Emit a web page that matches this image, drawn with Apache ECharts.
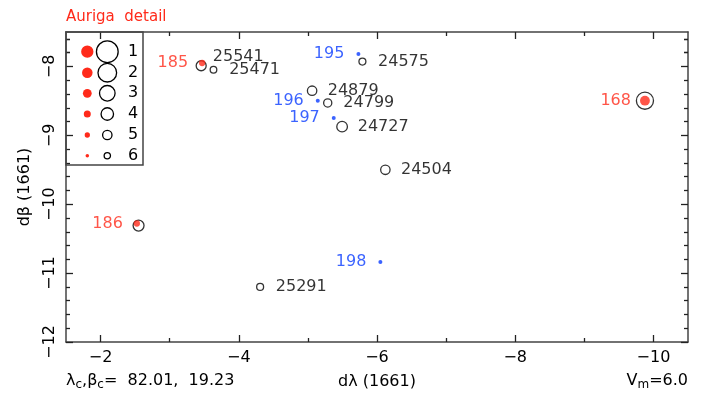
<!DOCTYPE html>
<html>
<head>
<meta charset="utf-8">
<script src="https://cdn.jsdelivr.net/npm/echarts@6/dist/echarts.min.js"></script>
<style>
  html, body { margin: 0; padding: 0; background: #fff; }
  #chart { width: 709px; height: 399px; }
</style>
</head>
<body>
<div id="chart"></div>
<script>
// Stars of the modern catalogue (open rings, labelled by number)
const starLabels = ['25541', '25471', '24575', '24879', '24799', '24727', '24504', '25291', '', ''];
const starLon = [-3.456, -3.634, -5.789, -5.061, -5.287, -5.495, -6.121, -4.309, -2.55, -9.877];
const starLat = [-7.99, -8.048, -7.93, -8.352, -8.53, -8.874, -9.50, -11.20, -10.31, -8.497];
const starMag = [4.8, 5.9, 5.8, 5.0, 5.4, 4.6, 5.0, 5.8, 4.5, 2.5];

// 1661 entries identified with a star (red dots)
const matchedIds = ['185', '186', '168'];
const matchedLon = [-3.47, -2.525, -9.877];
const matchedLat = [-7.95, -10.28, -8.497];
const matchedMag = [4.4, 4.4, 2.4];

// 1661 entries without an identification (blue dots)
const unmatchedIds = ['195', '196', '197', '198'];
const unmatchedLon = [-5.731, -5.143, -5.374, -6.049];
const unmatchedLat = [-7.82, -8.497, -8.748, -10.84];

// Axis ticks
const xMajorTicks = [-10, -8, -6, -4, -2];
const xMinorTicks = [-9, -7, -5, -3];
const yMajorTicks = [-12, -11, -10, -9, -8];
const legendMags = [1, 2, 3, 4, 5, 6];

const yMinorTicks = [];
for (let k = -12; k <= -8; k++) {
  for (let j = 1; j <= 4; j++) yMinorTicks.push(+(k + j * 0.2).toFixed(2));
}
yMinorTicks.push(-7.8, -7.6);

const RED = '#ff2a1a';
const BLUE = '#0a3cff';
const INK = '#000';
const FRAME = '#444';
const FONT = '"DejaVu Sans", sans-serif';

// Symbol diameters as a function of magnitude
const ringSize = m => 24.8 - 3.08 * m;
const dotSize = m => 14.06 - 1.76 * m;

const minus = v => String(v).replace('-', '\u2212');

const gridRect = { left: 66, top: 32, width: 622, height: 310 };
const X_MIN = -10.5, X_MAX = -1.5, Y_MIN = -12, Y_MAX = -7.5;

function xAxisDef(gridIndex, position, ticks, len, withLabels) {
  return {
    type: 'value', gridIndex, position, min: X_MIN, max: X_MAX, inverse: true,
    axisLine: { show: gridIndex === 0, lineStyle: { color: FRAME, width: 1.5 } },
    axisTick: { show: true, inside: true, length: len, customValues: ticks,
                lineStyle: { color: '#222', width: 1.3 } },
    axisLabel: { show: withLabels, customValues: ticks, formatter: minus,
                 color: INK, fontSize: 16, fontFamily: FONT, margin: 8 },
    splitLine: { show: false }
  };
}
function yAxisDef(gridIndex, position, ticks, len, withLabels) {
  return {
    type: 'value', gridIndex, position, min: Y_MIN, max: Y_MAX,
    axisLine: { show: gridIndex === 0, lineStyle: { color: FRAME, width: 1.5 } },
    axisTick: { show: true, inside: true, length: len, customValues: ticks,
                lineStyle: { color: '#222', width: 1.3 } },
    axisLabel: { show: withLabels, customValues: ticks, formatter: minus, rotate: 90,
                 color: INK, fontSize: 16, fontFamily: FONT, margin: 8 },
    splitLine: { show: false }
  };
}

const xAxes = [
  xAxisDef(0, 'bottom', xMajorTicks, 7, true),
  xAxisDef(0, 'top', xMajorTicks, 7, false),
  xAxisDef(1, 'bottom', xMinorTicks, 4, false),
  xAxisDef(1, 'top', xMinorTicks, 4, false)
];
Object.assign(xAxes[0], {
  name: 'd\u03bb (1661)', nameLocation: 'middle', nameGap: 32,
  nameTextStyle: { color: INK, fontSize: 16, fontFamily: FONT }
});
const yAxes = [
  yAxisDef(0, 'left', yMajorTicks, 7, true),
  yAxisDef(0, 'right', yMajorTicks, 7, false),
  yAxisDef(1, 'left', yMinorTicks, 4, false),
  yAxisDef(1, 'right', yMinorTicks, 4, false)
];
Object.assign(yAxes[0], {
  name: 'd\u03b2 (1661)', nameLocation: 'middle', nameGap: 33,
  nameTextStyle: { color: INK, fontSize: 16, fontFamily: FONT }
});

const starData = starLabels.map((id, i) => {
  const size = ringSize(starMag[i]);
  const lbl = { show: id !== '', formatter: id, position: 'right', distance: 15 - size / 2 };
  if (id === '25541') { lbl.offset = [-2, -9]; lbl.distance = 13 - size / 2; }
  return { name: id, value: [starLon[i], starLat[i]], symbolSize: size, label: lbl };
});
const matchedData = matchedIds.map((id, i) => {
  const size = dotSize(matchedMag[i]);
  return { name: id, value: [matchedLon[i], matchedLat[i]], symbolSize: size,
           label: { distance: 14 - size / 2 } };
});
const unmatchedData = unmatchedIds.map((id, i) => ({
  name: id, value: [unmatchedLon[i], unmatchedLat[i]], symbolSize: 4,
  label: { distance: 12 }
}));

// Magnitude key in the upper-left corner
const key = [{
  type: 'rect', shape: { x: 66, y: 32, width: 77, height: 133 },
  style: { fill: 'none', stroke: FRAME, lineWidth: 1.5 }, z: 10
}];
const keyRows = [51.7, 72.7, 93.3, 114, 135, 155.7];
legendMags.forEach((m, i) => {
  key.push({ type: 'circle', shape: { cx: 87.3, cy: keyRows[i], r: dotSize(m) / 2 },
             style: { fill: RED }, z: 10 });
  key.push({ type: 'circle', shape: { cx: 107.3, cy: keyRows[i], r: ringSize(m) / 2 },
             style: { fill: 'none', stroke: '#000', lineWidth: 1.3 }, z: 10 });
  key.push({ type: 'text', x: 133, y: keyRows[i],
             style: { text: String(m), fill: INK, font: '16px ' + FONT,
                      align: 'center', verticalAlign: 'middle' }, z: 10 });
});

const subRich = {
  n: { fontSize: 16, fontFamily: FONT, lineHeight: 18, verticalAlign: 'top', fill: INK },
  s: { fontSize: 12, fontFamily: FONT, lineHeight: 12, padding: [10, 0, 0, 0], verticalAlign: 'bottom', fill: INK }
};

const chart = echarts.init(document.getElementById('chart'), null, { renderer: 'canvas' });
chart.setOption({
  animation: false,
  backgroundColor: '#fff',
  grid: [Object.assign({}, gridRect), Object.assign({}, gridRect)],
  xAxis: xAxes,
  yAxis: yAxes,
  graphic: key.concat([
    { type: 'text', x: 66, y: 17,
      style: { text: 'Auriga  detail', fill: RED, font: '15px ' + FONT, align: 'left', verticalAlign: 'middle' } },
    { type: 'text', x: 66, y: 373,
      style: { text: '{n|\u03bb}{s|c}{n|,\u03b2}{s|c}{n|=  82.01,  19.23}', rich: subRich,
               fill: INK, align: 'left', verticalAlign: 'top' } },
    { type: 'text', x: 688, y: 373,
      style: { text: '{n|V}{s|m}{n|=6.0}', rich: subRich,
               fill: INK, align: 'right', verticalAlign: 'top' } }
  ]),
  series: [
    {
      type: 'scatter', xAxisIndex: 0, yAxisIndex: 0, data: starData,
      symbol: 'circle',
      itemStyle: { color: 'rgba(0,0,0,0)', borderColor: '#000', borderWidth: 1.3 },
      label: { color: INK, fontSize: 16, fontFamily: FONT },
      emphasis: { disabled: true }, z: 3
    },
    {
      type: 'scatter', xAxisIndex: 0, yAxisIndex: 0, data: matchedData,
      symbol: 'circle', itemStyle: { color: RED },
      label: { show: true, position: 'left', formatter: '{b}', color: RED, fontSize: 16, fontFamily: FONT },
      emphasis: { disabled: true }, z: 4
    },
    {
      type: 'scatter', xAxisIndex: 0, yAxisIndex: 0, data: unmatchedData,
      symbol: 'circle', itemStyle: { color: BLUE },
      label: { show: true, position: 'left', formatter: '{b}', color: BLUE, fontSize: 16, fontFamily: FONT },
      emphasis: { disabled: true }, z: 4
    }
  ]
});
</script>
</body>
</html>
